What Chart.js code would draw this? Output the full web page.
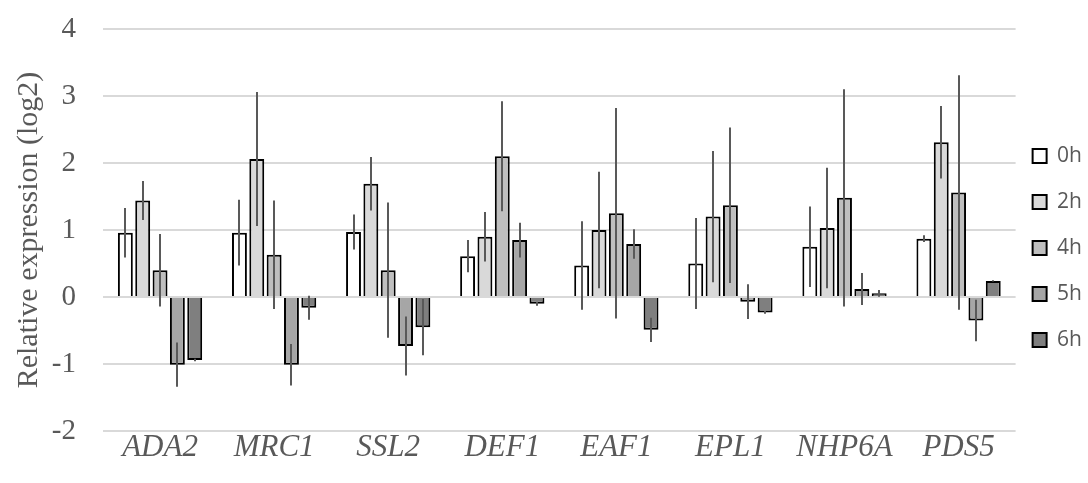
<!DOCTYPE html>
<html>
<head>
<meta charset="utf-8">
<script src="https://cdn.jsdelivr.net/npm/chart.js@4.4.0/dist/chart.umd.min.js"></script>
<style>
html,body{margin:0;padding:0;background:#fff;}
#wrap{width:1088px;height:483px;position:relative;}
</style>
</head>
<body>
<div id="wrap"><canvas id="c" width="1088" height="483"></canvas></div>
<script>
const categories = ["ADA2","MRC1","SSL2","DEF1","EAF1","EPL1","NHP6A","PDS5"];
const seriesNames = ["0h","2h","4h","5h","6h"];
const v0h = [0.96, 0.96, 0.97, 0.61, 0.47, 0.50, 0.75, 0.87];
const v2h = [1.44, 2.06, 1.69, 0.90, 1.00, 1.20, 1.03, 2.31];
const v4h = [0.40, 0.63, 0.40, 2.10, 1.25, 1.37, 1.48, 1.56];
const v5h = [-1.01, -1.01, -0.73, 0.85, 0.79, -0.07, 0.12, -0.35];
const v6h = [-0.94, -0.16, -0.45, -0.10, -0.49, -0.23, 0.055, 0.24];
const e0h = [0.37, 0.49, 0.26, 0.24, 0.66, 0.68, 0.60, 0.05];
const e2h = [0.29, 1.00, 0.40, 0.37, 0.87, 0.98, 0.90, 0.54];
const e4h = [0.54, 0.81, 1.01, 0.82, 1.57, 1.16, 1.62, 1.75];
const e5h = [0.33, 0.31, 0.44, 0.26, 0.22, 0.26, 0.24, 0.31];
const e6h = [0.02, 0.18, 0.42, 0.03, 0.18, 0.02, 0.05, 0.01];
const yTicks = [-2,-1,0,1,2,3,4];
const fills = ["#ffffff","#d9d9d9","#bfbfbf","#a6a6a6","#7f7f7f"];

const values = [v0h, v2h, v4h, v5h, v6h];
const errors = [e0h, e2h, e4h, e5h, e6h];

const errorBars = {
  id: 'errorBars',
  afterDatasetsDraw(chart) {
    const ctx = chart.ctx;
    const y = chart.scales.y;
    ctx.save();
    ctx.strokeStyle = '#595959';
    ctx.lineWidth = 2;
    chart.data.datasets.forEach((ds, i) => {
      const meta = chart.getDatasetMeta(i);
      meta.data.forEach((bar, j) => {
        const v = ds.data[j], e = ds.err[j];
        const x = Math.round(bar.x);
        ctx.beginPath();
        ctx.moveTo(x, y.getPixelForValue(v + e));
        ctx.lineTo(x, y.getPixelForValue(v - e));
        ctx.stroke();
      });
    });
    ctx.restore();
  }
};

// place the legend just right of the plot, slightly below its middle, as in the reference
const legendNudge = {
  id: 'legendNudge',
  afterLayout(chart) {
    const lg = chart.legend;
    if (!lg) return;
    const pad = lg.options.labels.padding;
    const dx = (chart.chartArea.right + 17 - pad) - lg.left;
    lg.left += dx; lg.right += dx;
    const midArea = (chart.chartArea.top + chart.chartArea.bottom) / 2;
    const midLegend = (lg.top + lg.bottom) / 2;
    const dy = (midArea + 18) - midLegend;
    lg.top += dy; lg.bottom += dy;
  }
};

new Chart(document.getElementById('c'), {
  type: 'bar',
  data: {
    labels: categories,
    datasets: seriesNames.map((n, i) => ({
      label: n,
      data: values[i],
      err: errors[i],
      backgroundColor: fills[i],
      borderColor: '#000000',
      borderWidth: 2,
      categoryPercentage: 0.76,
      barPercentage: 0.86
    }))
  },
  options: {
    responsive: false,
    animation: false,
    layout: { padding: { left: 11, right: -12, top: 29, bottom: 0 } },
    plugins: {
      tooltip: { enabled: false },
      legend: {
        position: 'right',
        align: 'center',
        labels: {
          boxWidth: 14,
          boxHeight: 14,
          padding: 25,
          color: '#595959',
          font: { family: 'Open Sans', size: 21 }
        }
      }
    },
    scales: {
      x: {
        afterFit(scale) { scale.height = 52; },
        grid: { display: false, drawTicks: false },
        border: { display: false },
        ticks: {
          color: '#595959',
          padding: -2,
          font: { family: 'Liberation Serif', size: 31, style: 'italic' }
        }
      },
      y: {
        min: -2, max: 4,
        afterBuildTicks(scale) { scale.ticks = yTicks.map(v => ({ value: v })); },
        afterFit(scale) { scale.width = 92; scale.paddingTop = 0; scale.paddingBottom = 0; },
        grid: { color: '#d9d9d9', lineWidth: 2, drawTicks: false },
        border: { display: false },
        ticks: {
          color: '#595959',
          padding: 27,
          font: { family: 'Liberation Serif', size: 29 }
        },
        title: {
          display: true,
          text: 'Relative expression (log2)',
          color: '#595959',
          padding: 0,
          font: { family: 'Liberation Serif', size: 30 }
        }
      }
    }
  },
  plugins: [errorBars, legendNudge]
});
</script>
</body>
</html>
